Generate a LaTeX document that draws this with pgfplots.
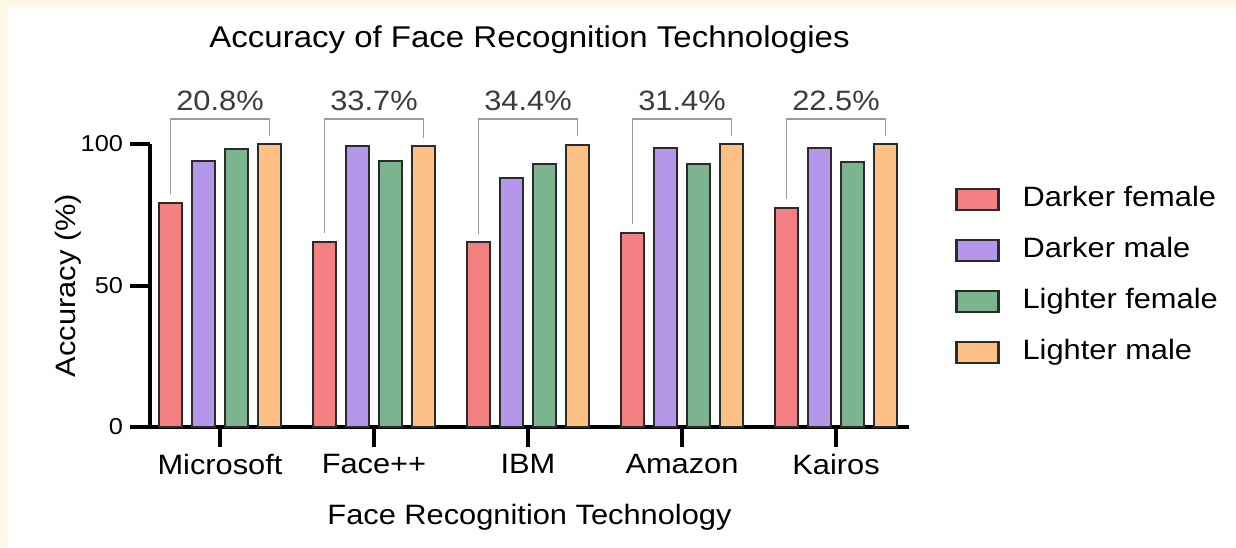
\documentclass[border=0pt]{standalone}
\usepackage{fontspec}
\setmainfont{Liberation Sans}[FakeStretch=1.1]
\usepackage{pgfplots}
\pgfplotsset{compat=1.18}

\definecolor{cream}{HTML}{FDF8E7}
\definecolor{cDF}{HTML}{F28080}
\definecolor{cDM}{HTML}{B497E8}
\definecolor{cLF}{HTML}{7BB48E}
\definecolor{cLM}{HTML}{FDC185}
\definecolor{edge}{HTML}{2B2B2B}
\definecolor{brk}{HTML}{9A9A9A}
\definecolor{pct}{HTML}{3C3C3C}

\begin{document}
\begin{tikzpicture}
% page background: cream strip on left and top, white card
\fill[cream] (0,0) rectangle (618pt,273.5pt);
\fill[white] (4pt,0) rectangle (618pt,270pt);

\begin{axis}[
  at={(75pt,60pt)}, anchor=south west,
  scale only axis, width=379.5pt, height=141.5pt,
  xmin=-0.4545, xmax=4.474, ymin=0, ymax=100,
  clip=false,
  axis lines=left,
  axis line style={-, line width=2pt, black},
  tick align=outside,
  major tick length=10pt,
  tick style={line width=2pt, black},
  xtick={0,1,2,3,4},
  xticklabels={Microsoft,Face++,IBM,Amazon,Kairos},
  ytick={0,50,100},
  /pgf/number format/assume math mode=true,
  xticklabel style={font=\fontsize{14}{16}\selectfont},
  yticklabel style={font=\fontsize{11.5}{13}\selectfont},
  xlabel={Face Recognition Technology},
  ylabel={Accuracy (\%)},
  xlabel style={font=\fontsize{14}{16}\selectfont, at={(axis description cs:0.5,-0.318)}, anchor=center},
  ylabel style={font=\fontsize{14}{16}\selectfont, at={(axis description cs:-0.108,0.5)}, anchor=center},
  title={Accuracy of Face Recognition Technologies},
  title style={font=\fontsize{15}{17}\selectfont, at={(axis description cs:0.5,1.325)}, anchor=center},
  legend image code/.code={\draw[#1] (0pt,-5.25pt) rectangle (21pt,5.25pt);},
  legend cell align=left,
  legend style={at={(axis description cs:1.0606,0.5336)}, anchor=west,
    draw=none, fill=none, inner sep=0pt, row sep=13pt,
    font=\fontsize{14}{16}\selectfont,
    nodes={inner sep=0pt, text height=10pt, text depth=2.5pt},
    /tikz/every odd column/.append style={column sep=11.5pt}},
  every axis plot/.append style={draw=edge, line width=1.1pt},
]
\addplot[ybar, bar width=0.149, bar shift=-0.321, fill=cDF]
  coordinates {(0,79.2) (1,65.5) (2,65.3) (3,68.6) (4,77.5)};
\addlegendentry{Darker female}
\addplot[ybar, bar width=0.149, bar shift=-0.107, fill=cDM]
  coordinates {(0,94.0) (1,99.3) (2,88.0) (3,98.7) (4,98.7)};
\addlegendentry{Darker male}
\addplot[ybar, bar width=0.149, bar shift=0.107, fill=cLF]
  coordinates {(0,98.3) (1,94.0) (2,92.9) (3,92.9) (4,93.6)};
\addlegendentry{Lighter female}
\addplot[ybar, bar width=0.149, bar shift=0.321, fill=cLM]
  coordinates {(0,100) (1,99.2) (2,99.7) (3,100) (4,100)};
\addlegendentry{Lighter male}

% brackets between darker female and lighter male
\addplot[forget plot, brk, line width=0.9pt, mark=none]
  coordinates {(-0.321,82.2) (-0.321,108.8) (0.321,108.8) (0.321,103.0)};
\addplot[forget plot, brk, line width=0.9pt, mark=none]
  coordinates {(0.679,68.5) (0.679,108.8) (1.321,108.8) (1.321,102.2)};
\addplot[forget plot, brk, line width=0.9pt, mark=none]
  coordinates {(1.679,68.3) (1.679,108.8) (2.321,108.8) (2.321,102.7)};
\addplot[forget plot, brk, line width=0.9pt, mark=none]
  coordinates {(2.679,71.6) (2.679,108.8) (3.321,108.8) (3.321,103.0)};
\addplot[forget plot, brk, line width=0.9pt, mark=none]
  coordinates {(3.679,80.5) (3.679,108.8) (4.321,108.8) (4.321,103.0)};

% gap labels
\addplot[forget plot, draw=none, mark=none,
  nodes near coords, point meta=explicit symbolic,
  nodes near coords style={anchor=center, text=pct, font=\fontsize{14}{16}\selectfont}]
  coordinates {(0,115.3)[20.8\%] (1,115.3)[33.7\%] (2,115.3)[34.4\%] (3,115.3)[31.4\%] (4,115.3)[22.5\%]};
\end{axis}
\end{tikzpicture}
\end{document}
